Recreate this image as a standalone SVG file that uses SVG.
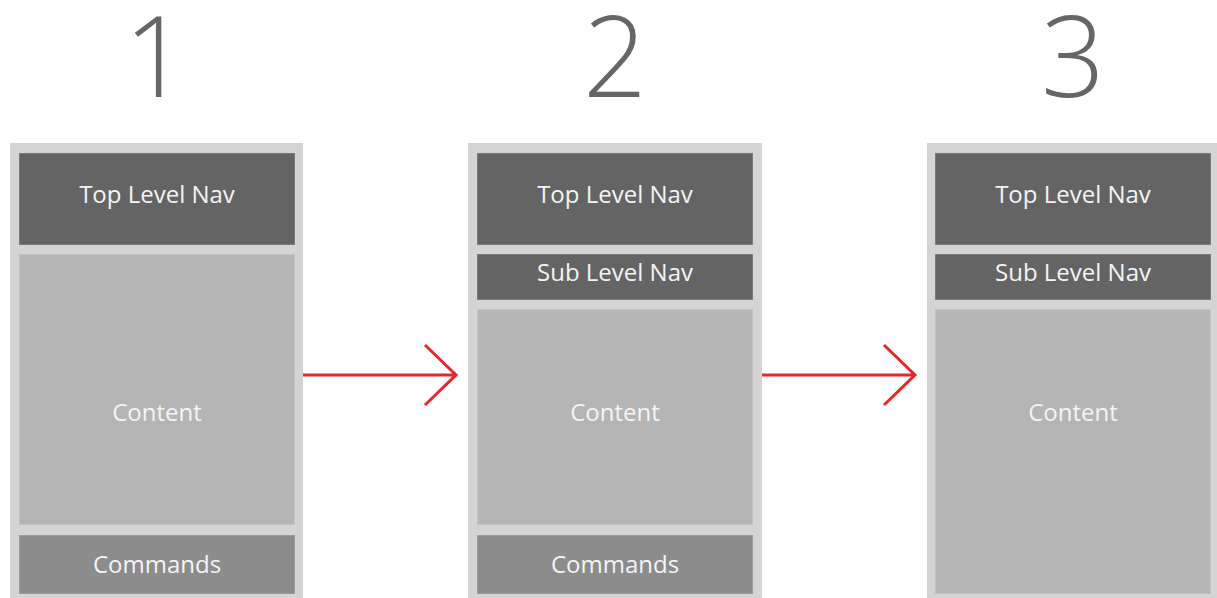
<svg xmlns="http://www.w3.org/2000/svg" width="1217" height="598" viewBox="0 0 1217 598">
<style>
.frame{fill:#d4d4d4}
.nav{fill:#646464;stroke:#7a7a7a;stroke-width:1}
.content{fill:#b5b5b5;stroke:#c2c2c2;stroke-width:1}
.cmd{fill:#8c8c8c;stroke:#9a9a9a;stroke-width:1}
.lbl{font-family:"Open Sans","Noto Sans",sans-serif;font-size:24px;fill:#f4f4f4;text-anchor:middle}
.num{font-family:"Open Sans","Noto Sans",sans-serif;font-weight:300;font-size:112px;fill:#666666;text-anchor:middle}
.arrow{fill:none;stroke:#e8262b;stroke-width:3}
</style>
<g id="step1">
<text class="num" x="156" y="97">1</text>
<rect class="frame" x="10" y="143" width="293" height="455"/>
<g id="s1-top"><rect class="nav" x="19.5" y="153.5" width="275" height="91"/><text class="lbl" x="157" y="203">Top Level Nav</text></g>
<g id="s1-content"><rect class="content" x="19.5" y="254.5" width="275" height="270"/><text class="lbl" x="157" y="421">Content</text></g>
<g id="s1-cmd"><rect class="cmd" x="19.5" y="535.5" width="275" height="58"/><text class="lbl" x="157" y="573">Commands</text></g>
</g>
<g id="step2">
<text class="num" x="615" y="97">2</text>
<rect class="frame" x="468" y="143" width="294" height="455"/>
<g id="s2-top"><rect class="nav" x="477.5" y="153.5" width="275" height="91"/><text class="lbl" x="615" y="203">Top Level Nav</text></g>
<g id="s2-sub"><rect class="nav" x="477.5" y="254.5" width="275" height="45"/><text class="lbl" x="615" y="281">Sub Level Nav</text></g>
<g id="s2-content"><rect class="content" x="477.5" y="309.5" width="275" height="215"/><text class="lbl" x="615" y="421">Content</text></g>
<g id="s2-cmd"><rect class="cmd" x="477.5" y="535.5" width="275" height="58"/><text class="lbl" x="615" y="573">Commands</text></g>
</g>
<g id="step3">
<text class="num" x="1073" y="97">3</text>
<rect class="frame" x="927" y="143" width="292" height="455"/>
<g id="s3-top"><rect class="nav" x="935.5" y="153.5" width="275" height="91"/><text class="lbl" x="1073" y="203">Top Level Nav</text></g>
<g id="s3-sub"><rect class="nav" x="935.5" y="254.5" width="275" height="45"/><text class="lbl" x="1073" y="281">Sub Level Nav</text></g>
<g id="s3-content"><rect class="content" x="935.5" y="309.5" width="275" height="284"/><text class="lbl" x="1073" y="421">Content</text></g>
</g>
<g id="connectors">
<path class="arrow" d="M303 375 H456 M425 345 L456 375 L425 405"/>
<path class="arrow" d="M762 375 H915 M884 345 L915 375 L884 405"/>
</g>
</svg>
